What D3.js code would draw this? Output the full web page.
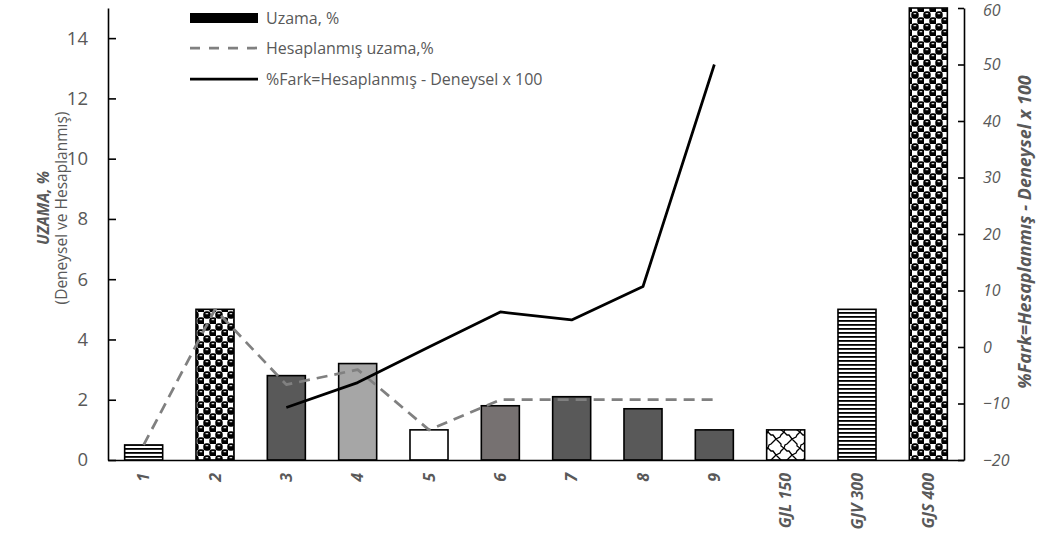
<!DOCTYPE html>
<html>
<head>
<meta charset="utf-8">
<script src="https://cdn.jsdelivr.net/npm/d3@7"></script>
<style>
  body { margin: 0; background: #fff; }
  svg { display: block; }
  text { font-family: "Open Sans", Lato, sans-serif; }
</style>
</head>
<body>
<svg id="chart" width="1041" height="538"></svg>
<script>
// Samples and measured elongation (%)
const categories = ["1", "2", "3", "4", "5", "6", "7", "8", "9", "GJL 150", "GJV 300", "GJS 400"];
const measured = [0.5, 5.0, 2.8, 3.2, 1.0, 1.8, 2.1, 1.7, 1.0, 1.0, 5.0, 15];
// Calculated elongation (%) for samples 1-9
const calculated = [0.5, 5.0, 2.5, 3.0, 1.0, 2.0, 2.0, 2.0, 2.0];
// Percent difference, right axis (samples 3-9)
const diffPct = [null, null, -10.7, -6.3, 0, 6.2, 4.8, 10.7, 50];
const leftTicks = [0, 2, 4, 6, 8, 10, 12, 14];
const rightTicks = [-20, -10, 0, 10, 20, 30, 40, 50, 60];
const legendLabels = ["Uzama, %", "Hesaplanmış uzama,%", "%Fark=Hesaplanmış - Deneysel x 100"];

// Bar fills per sample (patterns defined below)
const barFill = ["url(#hstripe)", "url(#balls)", "#595959", "#a6a6a6", "#ffffff", "#767171",
                 "#595959", "#595959", "#595959", "url(#wave)", "url(#hstripe)", "url(#balls)"];

const svg = d3.select("#chart");
const plot = { left: 108, right: 964, top: 8, bottom: 460 };
const textGray = "#595959";

// ---- patterns ----
const defs = svg.append("defs");

const hs = defs.append("pattern").attr("id", "hstripe").attr("patternUnits", "userSpaceOnUse")
  .attr("width", 8).attr("height", 4);
hs.append("rect").attr("width", 8).attr("height", 4).attr("fill", "#fff");
hs.append("rect").attr("y", 0).attr("width", 8).attr("height", 1.8).attr("fill", "#000");

// checkerboard of dark spheres with a small highlight
const balls = defs.append("pattern").attr("id", "balls").attr("patternUnits", "userSpaceOnUse")
  .attr("width", 12).attr("height", 12);
balls.append("rect").attr("width", 12).attr("height", 12).attr("fill", "#fff");
[[0, 0], [6, 6], [12, 0], [0, 12], [12, 12]].forEach(([bx, by]) => {
  balls.append("rect").attr("x", bx - 0.7).attr("y", by - 0.7).attr("width", 7.4).attr("height", 7.4)
    .attr("rx", 3).attr("fill", "#000");
});
[[0, 0], [6, 6]].forEach(([bx, by]) => {
  balls.append("rect").attr("x", bx + 1.6).attr("y", by + 1.2).attr("width", 2.6).attr("height", 1)
    .attr("fill", "#fff");
});

// jagged trellis
const wave = defs.append("pattern").attr("id", "wave").attr("patternUnits", "userSpaceOnUse")
  .attr("width", 16).attr("height", 16);
wave.append("rect").attr("width", 16).attr("height", 16).attr("fill", "#fff");
wave.append("path")
  .attr("d", "M0,0 L3,3 L5,3 L8,7 L10,9 L13,12 L13,14 L16,16 M16,0 L13,3 L12,5 L8,7 L6,9 L3,12 L1,13 L0,16")
  .attr("fill", "none").attr("stroke", "#000").attr("stroke-width", 1.3);

// ---- scales ----
const x = d3.scaleBand().domain(categories).range([plot.left, plot.right])
  .paddingInner(0.467).paddingOuter(0.2335);
const yL = d3.scaleLinear().domain([0, 15]).range([plot.bottom, plot.top]);
const yR = d3.scaleLinear().domain([-20, 60]).range([plot.bottom, plot.top]);
const cx = c => x(c) + x.bandwidth() / 2;

// ---- bars ----
svg.append("g").selectAll("rect").data(measured).join("rect")
  .attr("x", (d, i) => x(categories[i]))
  .attr("y", d => yL(d))
  .attr("width", x.bandwidth())
  .attr("height", d => yL(0) - yL(d))
  .attr("fill", (d, i) => barFill[i])
  .attr("stroke", "#000").attr("stroke-width", 1.6);

// ---- lines ----
const calcLine = d3.line().x((d, i) => cx(categories[i])).y(d => yL(d));
svg.append("path").datum(calculated).attr("d", calcLine)
  .attr("fill", "none").attr("stroke", "#808080").attr("stroke-width", 2.75)
  .attr("stroke-dasharray", "11,7").attr("stroke-linejoin", "round");

const diffLine = d3.line().defined(d => d != null).x((d, i) => cx(categories[i])).y(d => yR(d));
svg.append("path").datum(diffPct).attr("d", diffLine)
  .attr("fill", "none").attr("stroke", "#000").attr("stroke-width", 2.75).attr("stroke-linejoin", "round");

// ---- axes ----
const gL = svg.append("g").attr("transform", `translate(${plot.left},0)`)
  .call(d3.axisLeft(yL).tickValues(leftTicks).tickSizeInner(-8).tickSizeOuter(0).tickPadding(20));
gL.select(".domain").attr("stroke", "#000").attr("stroke-width", 1.6);
gL.selectAll(".tick line").attr("stroke", "#000").attr("stroke-width", 1.6);
gL.selectAll(".tick text").attr("fill", textGray).style("font-size", "18.5px");

const gR = svg.append("g").attr("transform", `translate(${plot.right},0)`)
  .call(d3.axisRight(yR).tickValues(rightTicks).tickSizeInner(-6).tickSizeOuter(0).tickPadding(19));
gR.select(".domain").attr("stroke", "#000").attr("stroke-width", 1.6);
gR.selectAll(".tick line").attr("stroke", "#000").attr("stroke-width", 1.6);
gR.selectAll(".tick text").attr("fill", textGray).style("font-size", "16px").style("font-style", "italic");
gR.selectAll(".tick text").filter(d => d === 60).attr("dy", "0.45em");

const gX = svg.append("g").attr("transform", `translate(0,${plot.bottom})`)
  .call(d3.axisBottom(x).tickSize(0).tickSizeOuter(0).tickPadding(0));
gX.select(".domain").attr("stroke", "#000").attr("stroke-width", 1.6);
gX.selectAll(".tick text")
  .attr("fill", textGray).attr("text-anchor", "end")
  .attr("transform", "translate(0,13) rotate(-90)")
  .attr("x", 0).attr("y", 0).attr("dy", "0.35em")
  .style("font-size", "16px").style("font-weight", "bold").style("font-style", "italic");

// ---- axis titles ----
const leftTitle = svg.append("g").attr("transform", "translate(49,208) rotate(-90)");
leftTitle.append("text").attr("text-anchor", "middle").attr("fill", textGray)
  .style("font-size", "15.5px").style("font-weight", "bold").style("font-style", "italic")
  .text("UZAMA, %");
leftTitle.append("text").attr("text-anchor", "middle").attr("y", 18).attr("fill", textGray)
  .style("font-size", "15.5px").text("(Deneysel ve Hesaplanmış)");

svg.append("text").attr("transform", "translate(1031,232) rotate(-90)")
  .attr("text-anchor", "middle").attr("fill", textGray)
  .style("font-size", "18px").style("font-weight", "bold").style("font-style", "italic")
  .text("%Fark=Hesaplanmış - Deneysel x 100");

// ---- legend ----
const lg = svg.append("g").attr("transform", "translate(190,0)");
const rowsY = [18, 48, 79];
lg.append("rect").attr("x", 0).attr("y", rowsY[0] - 5).attr("width", 68).attr("height", 10).attr("fill", "#000");
lg.append("line").attr("x1", 0).attr("x2", 68).attr("y1", rowsY[1]).attr("y2", rowsY[1])
  .attr("stroke", "#808080").attr("stroke-width", 2.75).attr("stroke-dasharray", "10,9");
lg.append("line").attr("x1", 0).attr("x2", 68).attr("y1", rowsY[2]).attr("y2", rowsY[2])
  .attr("stroke", "#000").attr("stroke-width", 2.75);
lg.selectAll("text.lbl").data(legendLabels).join("text").attr("class", "lbl")
  .attr("x", 76).attr("y", (d, i) => rowsY[i]).attr("dy", "0.35em")
  .attr("fill", textGray).style("font-size", "16px").text(d => d);
</script>
</body>
</html>
